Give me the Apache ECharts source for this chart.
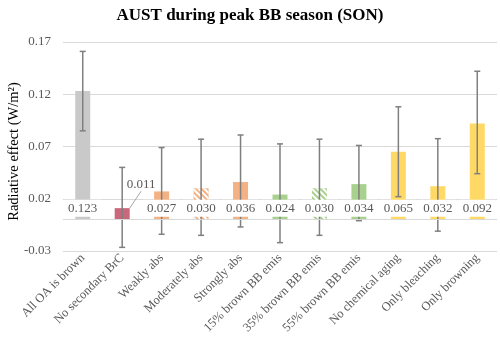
<!DOCTYPE html>
<html>
<head>
<meta charset="utf-8">
<script src="https://cdn.jsdelivr.net/npm/echarts@6/dist/echarts.min.js"></script>
<style>
  html, body { margin: 0; padding: 0; background: #fff; }
  #main { width: 500px; height: 345px; }
</style>
</head>
<body>
<div id="main"></div>
<script>
const categories = ['All OA is brown', 'No secondary BrC', 'Weakly abs', 'Moderately abs', 'Strongly abs',
  '15% brown BB emis', '35% brown BB emis', '55% brown BB emis', 'No chemical aging', 'Only bleaching', 'Only browning'];
const values = [0.123, 0.011, 0.027, 0.030, 0.036, 0.024, 0.030, 0.034, 0.065, 0.032, 0.092];
const errHigh = [0.161, 0.050, 0.069, 0.077, 0.081, 0.0725, 0.077, 0.071, 0.108, 0.0775, 0.142];
const errLow = [0.085, -0.0265, -0.014, -0.015, -0.007, -0.022, -0.015, -0.001, 0.022, -0.011, 0.044];
const barColors = ['#c9c9c9', '#c9687b', '#f4b183', '#f4b183', '#f4b183',
  '#a9d18e', '#a9d18e', '#a9d18e', '#ffd966', '#ffd966', '#ffd966'];
const hatched = [false, false, false, true, false, false, true, false, false, false, false];

const chartDom = document.getElementById('main');
const myChart = echarts.init(chartDom);

const font = 'Liberation Serif';
const stripes = {
  color: '#ffffff',
  symbol: 'rect',
  dashArrayX: [1, 0],
  dashArrayY: [2, 2],
  rotation: Math.PI / 4
};

const myChartOption = {
  animation: false,
  title: {
    text: 'AUST during peak BB season (SON)',
    left: 'center',
    top: 2,
    textStyle: { fontFamily: font, fontWeight: 'bold', fontSize: 17, color: '#000' }
  },
  grid: { left: 63, right: 3, top: 42, bottom: 94, outerBoundsMode: 'none' },
  xAxis: {
    type: 'category',
    data: categories,
    axisLine: { show: false },
    axisTick: { show: false },
    axisLabel: { interval: 0, rotate: 45, margin: 5, fontFamily: font, fontSize: 12.5, color: '#595959' }
  },
  yAxis: {
    type: 'value',
    min: -0.03,
    max: 0.17,
    interval: 0.05,
    name: 'Radiative effect (W/m\u00b2)',
    nameLocation: 'middle',
    nameGap: 41,
    nameMoveOverlap: false,
    nameTextStyle: { fontFamily: font, fontSize: 14.5, color: '#000', padding: [0, 10, 0, 0] },
    axisLabel: {
      fontFamily: font, fontSize: 13, color: '#595959', margin: 12,
      formatter: v => v.toFixed(2)
    },
    splitLine: { lineStyle: { color: '#d9d9d9', width: 1 } }
  },
  series: [
    {
      type: 'bar',
      z: 1,
      barWidth: 15,
      data: values.map((v, i) => ({
        value: v,
        itemStyle: { color: barColors[i], decal: hatched[i] ? stripes : null }
      })),
      markLine: {
        silent: true,
        symbol: 'none',
        label: { show: false },
        lineStyle: { color: '#d9d9d9', width: 1, type: 'solid' },
        data: [{ yAxis: 0 }]
      }
    },
    {
      type: 'custom',
      z: 2,
      data: errLow.map((lo, i) => [i, lo, errHigh[i]]),
      renderItem: function (params, api) {
        const lo = api.coord([api.value(0), api.value(1)]);
        const hi = api.coord([api.value(0), api.value(2)]);
        const style = { stroke: '#7f7f7f', lineWidth: 1.5 };
        return {
          type: 'group',
          children: [
            { type: 'line', shape: { x1: hi[0], y1: hi[1], x2: lo[0], y2: lo[1] }, style },
            { type: 'line', shape: { x1: hi[0] - 3, y1: hi[1], x2: hi[0] + 3, y2: hi[1] }, style },
            { type: 'line', shape: { x1: lo[0] - 3, y1: lo[1], x2: lo[0] + 3, y2: lo[1] }, style }
          ]
        };
      }
    },
    {
      type: 'bar',
      z: 3,
      barWidth: 15,
      barGap: '-100%',
      itemStyle: { color: 'rgba(0,0,0,0)' },
      data: values.map((v, i) => (i === 1 ? {
        value: v,
        label: {
          position: 'top',
          backgroundColor: 'transparent',
          padding: 0
        },
        labelLine: { show: true, lineStyle: { color: '#a6a6a6', width: 1 } }
      } : v)),
      label: {
        show: true,
        position: 'insideBottom',
        distance: 3,
        backgroundColor: '#ffffff',
        padding: [2, 4],
        fontFamily: font,
        fontSize: 13,
        color: '#595959',
        formatter: p => p.value.toFixed(3)
      },
      labelLayout: function (params) {
        if (params.dataIndex === 1) {
          return { dx: 19, dy: -14 };
        }
        return {};
      }
    }
  ]
};

myChartOption && myChart.setOption(myChartOption);
</script>
</body>
</html>
